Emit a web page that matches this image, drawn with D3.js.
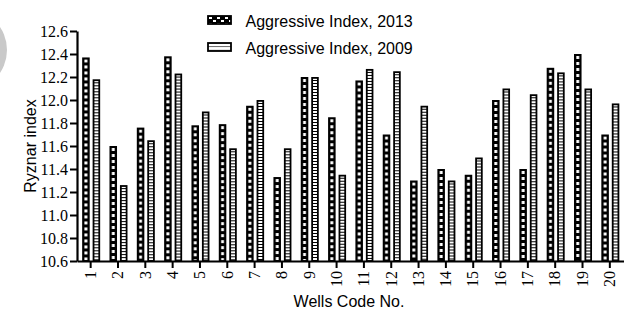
<!DOCTYPE html>
<html><head><meta charset="utf-8">
<script src="https://cdn.jsdelivr.net/npm/d3@7"></script>
<style>body{margin:0;background:#fff}svg{display:block}</style>
</head><body>
<svg id="c" width="624" height="309"></svg>
<script>
const categories = ["1","2","3","4","5","6","7","8","9","10","11","12","13","14","15","16","17","18","19","20"];
const seriesNames = ["Aggressive Index, 2013","Aggressive Index, 2009"];
const values2013 = [12.37,11.60,11.76,12.38,11.78,11.79,11.95,11.33,12.20,11.85,12.17,11.70,11.30,11.40,11.35,12.00,11.40,12.28,12.40,11.70];
const values2009 = [12.18,11.26,11.65,12.23,11.90,11.58,12.00,11.58,12.20,11.35,12.27,12.25,11.95,11.30,11.50,12.10,12.05,12.24,12.10,11.97];
const yTicks = [10.6,10.8,11.0,11.2,11.4,11.6,11.8,12.0,12.2,12.4,12.6];

const SERIF = "'Liberation Serif', 'Times New Roman', serif";
const SANS = "'Liberation Sans', Arial, sans-serif";

const svg = d3.select("#c");
const defs = svg.append("defs");

// grey disc at the left edge
svg.append("circle").attr("cx",-34).attr("cy",50).attr("r",41).attr("fill","#c9c9c9");

const x = d3.scaleBand().domain(categories).range([77,623.5]);
const xs = d3.scaleBand().domain(seriesNames).range([-8.5,9.5]).paddingInner(0.28);
const y = d3.scaleLinear().domain([10.6,12.6]).range([261,31]);

const data = categories.map((c,i)=>({cat:c, vals:[values2013[i], values2009[i]]}));
const sw = 1.8;

data.forEach((d,i)=>{
  d.vals.forEach((v,k)=>{
    const cx = x(d.cat) + x.bandwidth()/2;
    const bx = cx + xs(seriesNames[k]);
    const bw = xs.bandwidth();
    const id = "p"+k+"_"+i;
    const pat = defs.append("pattern").attr("id",id).attr("patternUnits","userSpaceOnUse")
      .attr("x",bx).attr("y",y(v)).attr("width",bw).attr("height",k===0?6:3);
    if(k===0){
      pat.append("rect").attr("width",bw).attr("height",6).attr("fill","#000");
      pat.append("rect").attr("x",bw/2-1.5).attr("y",2).attr("width",3).attr("height",3).attr("fill","#fff");
    } else {
      pat.append("rect").attr("width",bw).attr("height",3).attr("fill","#fff");
      pat.append("rect").attr("x",0).attr("y",0).attr("width",bw).attr("height",1).attr("fill","#000");
    }
    svg.append("rect")
      .attr("x",bx+sw/2).attr("y",y(v)+sw/2)
      .attr("width",bw-sw).attr("height",y(10.6)-y(v)-sw/2)
      .attr("fill","url(#"+id+")").attr("stroke","#000").attr("stroke-width",sw);
  });
});

// Y axis
const yAxis = svg.append("g").attr("transform","translate(77,0)")
  .call(d3.axisLeft(y).tickValues(yTicks).tickFormat(d3.format(".1f")).tickSize(7).tickSizeOuter(0));
yAxis.select(".domain").attr("stroke-width",2.2);
yAxis.selectAll(".tick line").attr("stroke-width",2);
yAxis.selectAll(".tick text").style("font-family",SERIF).style("font-size","16px")
  .attr("fill","#000").attr("x",-9);

// X axis
const xAxis = svg.append("g").attr("transform","translate(0,261)")
  .call(d3.axisBottom(x).tickSize(7).tickSizeOuter(0));
xAxis.select(".domain").attr("stroke-width",2.2);
xAxis.selectAll(".tick line").attr("stroke-width",2);
xAxis.selectAll(".tick text").style("font-family",SERIF).style("font-size","16px").attr("fill","#000")
  .attr("transform","rotate(-90)").attr("text-anchor","end")
  .attr("x",-10).attr("y",0).attr("dy","0.33em");

// axis titles
svg.append("text").attr("transform","translate(36,146) rotate(-90)")
  .attr("text-anchor","middle").style("font-family",SANS).style("font-size","16px").text("Ryznar index");
svg.append("text").attr("x",349).attr("y",307).attr("text-anchor","middle")
  .style("font-family",SANS).style("font-size","16px").text("Wells Code No.");

// legend
const lp1 = defs.append("pattern").attr("id","leg13").attr("patternUnits","userSpaceOnUse")
  .attr("x",208).attr("y",16).attr("width",8).attr("height",6);
lp1.append("rect").attr("width",8).attr("height",6).attr("fill","#000");
lp1.append("rect").attr("x",1).attr("y",1).attr("width",3).attr("height",2).attr("fill","#fff");
lp1.append("rect").attr("x",5).attr("y",4).attr("width",3).attr("height",2).attr("fill","#fff");
const lp2 = defs.append("pattern").attr("id","leg09").attr("patternUnits","userSpaceOnUse")
  .attr("x",208).attr("y",43.5).attr("width",25).attr("height",3.6);
lp2.append("rect").attr("width",25).attr("height",3.6).attr("fill","#fff");
lp2.append("rect").attr("y",3).attr("width",25).attr("height",1.2).attr("fill","#000");

const legend = svg.append("g");
const legY = [15.5, 42.5];
const legFill = ["url(#leg13)","url(#leg09)"];
seriesNames.forEach((s,k)=>{
  legend.append("rect").attr("x",208).attr("y",legY[k]+0.5).attr("width",23).attr("height",8)
    .attr("fill",legFill[k]).attr("stroke","#000").attr("stroke-width",sw);
  legend.append("text").attr("x",245.5).attr("y",legY[k]+11)
    .style("font-family",SANS).style("font-size","16px").text(s);
});
</script>
</body></html>
